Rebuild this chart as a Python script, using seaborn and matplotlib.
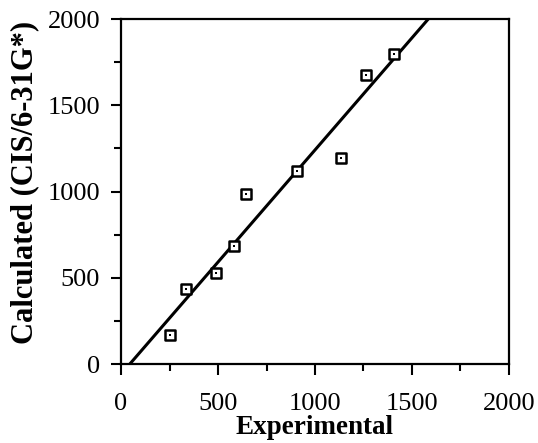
import numpy as np
import pandas as pd
import matplotlib
matplotlib.use("Agg")
import matplotlib.pyplot as plt
from matplotlib.ticker import MultipleLocator
import seaborn as sns

# Data
experimental = [252, 335, 488, 583, 643, 907, 1132, 1263, 1407]
calculated = [168, 435, 526, 686, 986, 1119, 1196, 1675, 1795]

x_label = "Experimental"
y_label = "Calculated (CIS/6-31G*)"
axis_ticks = [0, 500, 1000, 1500, 2000]

df = pd.DataFrame({"Experimental": experimental, "Calculated": calculated})

sns.set_theme(style="white")
plt.rcParams["font.family"] = ["Liberation Serif", "DejaVu Serif"]

fig = plt.figure(figsize=(5.38, 4.43), dpi=100)
ax = fig.add_axes([0.225, 0.178, 0.721, 0.779])

ax.set_xlim(0, 2000)
ax.set_ylim(0, 2000)

sns.regplot(data=df, x="Experimental", y="Calculated", ax=ax, ci=None,
            truncate=False, scatter=False,
            line_kws=dict(color="black", linewidth=2.2))
sns.scatterplot(data=df, x="Experimental", y="Calculated", ax=ax,
                marker="s", s=55, facecolor="white", edgecolor="black",
                linewidth=1.8, zorder=3)
sns.scatterplot(data=df, x="Experimental", y="Calculated", ax=ax,
                marker="s", s=2.5, color="black", linewidth=0, zorder=4)

ax.set_xlim(0, 2000)
ax.set_ylim(0, 2000)
ax.set_xticks(axis_ticks)
ax.set_yticks(axis_ticks)
ax.xaxis.set_minor_locator(MultipleLocator(250))
ax.yaxis.set_minor_locator(MultipleLocator(250))

ax.tick_params(axis="x", which="major", direction="out", length=8,
               width=1.5, color="black", labelsize=19, labelcolor="black",
               bottom=True, top=False, pad=13)
ax.tick_params(axis="y", which="major", direction="out", length=7,
               width=1.5, color="black", labelsize=19, labelcolor="black",
               left=True, right=False, pad=8)
ax.tick_params(axis="both", which="minor", direction="out", length=5,
               width=1.5, color="black", bottom=True, left=True,
               top=False, right=False)

for sp in ax.spines.values():
    sp.set_visible(True)
    sp.set_color("black")
    sp.set_linewidth(1.6)

ax.set_xlabel(x_label, fontsize=19.5, fontweight="bold", color="black", labelpad=0)
ax.set_ylabel(y_label, fontsize=22, fontweight="bold", color="black")
ax.yaxis.set_label_coords(-0.21, 0.527)

fig.savefig("out.png", dpi=100)
